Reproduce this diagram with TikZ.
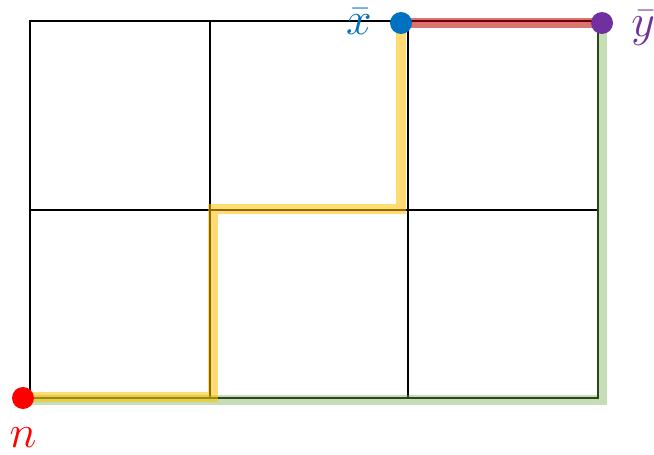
\RequirePackage{fix-cm}
\documentclass[tikz,border=0pt]{standalone}
\usepackage{tikz}
\usetikzlibrary{positioning,backgrounds}
\definecolor{dotred}{HTML}{FF0000}
\definecolor{dotblue}{HTML}{0070C0}
\definecolor{dotpurple}{HTML}{7030A0}
\definecolor{routeyellow}{HTML}{FFC000}
\definecolor{routegreen}{HTML}{70AD47}
\definecolor{routered}{HTML}{C00000}

\begin{document}
\begin{tikzpicture}[x=1pt, y=-1pt,
  dot/.style={circle, fill, inner sep=0pt, minimum size=22pt},
  gridline/.style={line width=2pt, black},
  route/.style={line width=10pt, opacity=0.55},
  lbl/.style={font=\fontsize{46}{46}\selectfont, inner sep=0pt},
]
  \useasboundingbox (0,0) rectangle (654,455);

  \node[dot, dotred] (n) at (23,398) {};
  \node[dot, dotblue] (xbar) at (401,23) {};
  \node[dot, dotpurple] (ybar) at (602,23) {};

  \node[lbl, text=dotred, below=18pt of n] (nlbl) {$n$};
  \node[lbl, text=dotblue, left=18pt of xbar, yshift=1pt] (xlbl) {$\bar{x}$};
  \node[lbl, text=dotpurple, right=18pt of ybar, yshift=-5pt] (ylbl) {$\bar{y}$};

  \coordinate (y1) at (213,397);
  \coordinate (y2) at (213,209);
  \coordinate (y3) at (401,209);
  \coordinate (g1) at (602,400);

  \begin{scope}[on background layer]
    % grid
    \draw[gridline] (30,21) rectangle (598,398);
    \draw[gridline] (210,21) -- (210,398);
    \draw[gridline] (408,21) -- (408,398);
    \draw[gridline] (30,210) -- (598,210);
    % routes
    \draw[route, routegreen, opacity=0.4] (n.center |- g1) -- (g1) -- (ybar.center);
    \draw[route, routeyellow] (n.center |- y1) -- (y1) -- (y2) -- (y3) -- (xbar.center);
    \draw[route, routered] (xbar.center) -- (ybar.center);
  \end{scope}
\end{tikzpicture}
\end{document}
